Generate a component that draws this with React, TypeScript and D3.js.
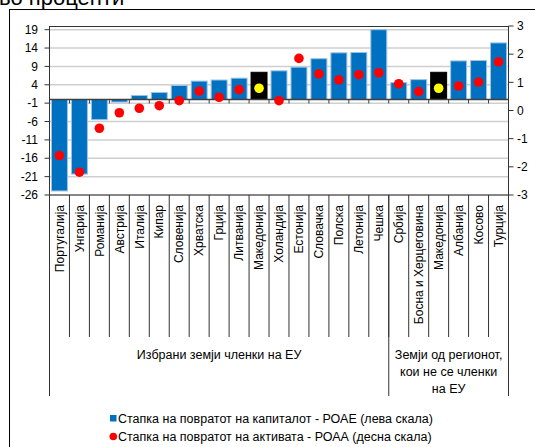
import React, { useEffect, useRef } from 'react';
import * as d3 from 'd3';

const categories = [
  'Португалија', 'Унгарија', 'Романија', 'Австрија', 'Италија', 'Кипар',
  'Словенија', 'Хрватска', 'Грција', 'Литванија', 'Македонија', 'Холандија',
  'Естонија', 'Словачка', 'Полска', 'Летонија', 'Чешка',
  'Србија', 'Босна и Херцеговина', 'Македонија', 'Албанија', 'Косово', 'Турција',
];

// ROAE, left scale
const roae = [
  -24.9, -20.3, -5.5, -0.7, 1.1, 1.9, 3.8, 5.0, 5.3, 5.8, 7.4, 7.8,
  8.8, 11.1, 12.7, 12.8, 19.0,
  4.6, 5.4, 7.4, 10.5, 10.6, 15.4,
];

// ROAA, right scale
const roaa = [
  -1.6, -2.19, -0.63, -0.08, 0.08, 0.17, 0.35, 0.69, 0.47, 0.74, 0.79, 0.35,
  1.85, 1.3, 1.09, 1.27, 1.34,
  0.95, 0.67, 0.79, 0.87, 1.01, 1.73,
];

const groupLabels = [
  ['Избрани земји членки на ЕУ'],
  ['Земји од регионот,', 'кои не се членки', 'на ЕУ'],
];
const groupSizes = [17, 6];

const leftTicks = [-26, -21, -16, -11, -6, -1, 4, 9, 14, 19];
const rightTicks = [-3, -2, -1, 0, 1, 2, 3];

const legendItems = [
  'Стапка на повратот на капиталот - РОАЕ (лева скала)',
  'Стапка на повратот на активата - РОАА (десна скала)',
];

const highlight = 'Македонија';
const FONT = '"Liberation Sans", Arial, sans-serif';

export default function App() {
  const svgRef = useRef<SVGSVGElement>(null);

  useEffect(() => {
    if (!svgRef.current) return;
    const svg = d3.select(svgRef.current);
    svg.selectAll('*').remove();

    const plot = { left: 49.5, right: 508.5, top: 26, bottom: 195 };
    const catBottom = 337;
    const groupBottom = 396;

    // chart frame (cropped) and title
    svg.append('rect')
      .attr('x', 9.5).attr('y', 9.5).attr('width', 600).attr('height', 500)
      .attr('fill', 'white').attr('stroke', '#000');

    svg.append('text')
      .attr('x', -1).attr('y', 5)
      .style('font-family', FONT).style('font-size', '22px')
      .text('во проценти');

    const idx = categories.map((_, i) => i);
    const x = d3.scaleBand<number>().domain(idx).range([plot.left, plot.right]).padding(0);
    const yL = d3.scaleLinear().domain([-26, 20]).range([plot.bottom, plot.top]);
    const yR = d3.scaleLinear().domain([-3, 3]).range([plot.bottom, plot.top]);

    // gridlines
    svg.append('g').selectAll('line').data(leftTicks).join('line')
      .attr('x1', plot.left).attr('x2', plot.right)
      .attr('y1', d => yL(d)).attr('y2', d => yL(d))
      .attr('stroke', '#cfcfcf').attr('stroke-width', 1.5);

    // plot top border
    svg.append('line')
      .attr('x1', plot.left).attr('x2', plot.right)
      .attr('y1', plot.top + 0.5).attr('y2', plot.top + 0.5)
      .attr('stroke', '#333');

    // bars
    const bw = x.bandwidth();
    svg.append('g').selectAll('rect').data(roae).join('rect')
      .attr('x', (_, i) => (x(i) as number) + bw * 0.1)
      .attr('width', bw * 0.8)
      .attr('y', d => yL(Math.max(0, d)))
      .attr('height', d => Math.abs(yL(d) - yL(0)))
      .attr('fill', (_, i) => categories[i] === highlight ? '#000' : '#0070C0')
      .attr('stroke', (_, i) => categories[i] === highlight ? '#000' : '#9DC3E6')
      .attr('stroke-width', 1);

    // zero axis with ticks
    svg.append('line')
      .attr('x1', plot.left).attr('x2', plot.right)
      .attr('y1', yL(0)).attr('y2', yL(0))
      .attr('stroke', '#404040').attr('stroke-width', 1.5);
    svg.append('g').selectAll('line').data(d3.range(categories.length + 1)).join('line')
      .attr('x1', i => plot.left + i * bw).attr('x2', i => plot.left + i * bw)
      .attr('y1', yL(0)).attr('y2', yL(0) + 4)
      .attr('stroke', '#404040');

    // dots
    svg.append('g').selectAll('circle').data(roaa).join('circle')
      .attr('cx', (_, i) => (x(i) as number) + bw / 2)
      .attr('cy', d => yR(d))
      .attr('r', 4.8)
      .attr('fill', (_, i) => categories[i] === highlight ? '#FFFF00' : '#FF0000');

    // left axis
    svg.append('line')
      .attr('x1', plot.left).attr('x2', plot.left)
      .attr('y1', plot.top).attr('y2', groupBottom)
      .attr('stroke', '#333');
    const la = svg.append('g');
    la.selectAll('line').data(leftTicks).join('line')
      .attr('x1', plot.left - 5).attr('x2', plot.left)
      .attr('y1', d => yL(d)).attr('y2', d => yL(d))
      .attr('stroke', '#333');
    la.selectAll('text').data(leftTicks).join('text')
      .attr('x', 38).attr('y', d => yL(d)).attr('dy', '0.35em')
      .attr('text-anchor', 'end')
      .style('font-family', FONT).style('font-size', '12px')
      .text(d => d);

    // right axis
    svg.append('line')
      .attr('x1', plot.right).attr('x2', plot.right)
      .attr('y1', plot.top).attr('y2', groupBottom)
      .attr('stroke', '#333');
    const ra = svg.append('g');
    ra.selectAll('line').data(rightTicks).join('line')
      .attr('x1', plot.right).attr('x2', plot.right + 5)
      .attr('y1', d => yR(d)).attr('y2', d => yR(d))
      .attr('stroke', '#333');
    ra.selectAll('text').data(rightTicks).join('text')
      .attr('x', 517).attr('y', d => yR(d)).attr('dy', '0.35em')
      .style('font-family', FONT).style('font-size', '12px')
      .text(d => d);

    // category table
    svg.append('line')
      .attr('x1', plot.left).attr('x2', plot.right)
      .attr('y1', plot.bottom).attr('y2', plot.bottom)
      .attr('stroke', '#333');
    svg.append('g').selectAll('line').data(d3.range(1, categories.length)).join('line')
      .attr('x1', i => plot.left + i * bw).attr('x2', i => plot.left + i * bw)
      .attr('y1', plot.bottom).attr('y2', catBottom)
      .attr('stroke', '#333');
    svg.append('g').selectAll('text').data(categories).join('text')
      .attr('transform', (_, i) => `translate(${(x(i) as number) + bw / 2},${plot.bottom + 10}) rotate(-90)`)
      .attr('dy', '0.35em')
      .attr('text-anchor', 'end')
      .style('font-family', FONT).style('font-size', '12px')
      .text(d => d);

    // group labels
    let start = 0;
    groupSizes.forEach((n, g) => {
      const x0 = plot.left + start * bw;
      const x1 = plot.left + (start + n) * bw;
      svg.append('line')
        .attr('x1', x1).attr('x2', x1)
        .attr('y1', plot.bottom).attr('y2', groupBottom)
        .attr('stroke', '#333');
      svg.append('g').selectAll('text').data(groupLabels[g]).join('text')
        .attr('x', (x0 + x1) / 2)
        .attr('y', (_, k) => 359 + k * 17)
        .attr('text-anchor', 'middle')
        .style('font-family', FONT).style('font-size', '12.5px')
        .text(d => d);
      start += n;
    });

    // legend
    const lg = svg.append('g');
    lg.append('rect').attr('x', 110).attr('y', 415).attr('width', 6.5).attr('height', 6.5).attr('fill', '#0070C0');
    lg.append('circle').attr('cx', 113.3).attr('cy', 436.5).attr('r', 3.8).attr('fill', '#FF0000');
    lg.selectAll('text').data(legendItems).join('text')
      .attr('x', 118).attr('y', (_, k) => 422.5 + k * 18)
      .style('font-family', FONT).style('font-size', '12.5px')
      .text(d => d);
  }, []);

  return (
    <svg
      ref={svgRef}
      width={535}
      height={447}
      style={{ position: 'absolute', left: 0, top: 0, background: 'white' }}
    />
  );
}
